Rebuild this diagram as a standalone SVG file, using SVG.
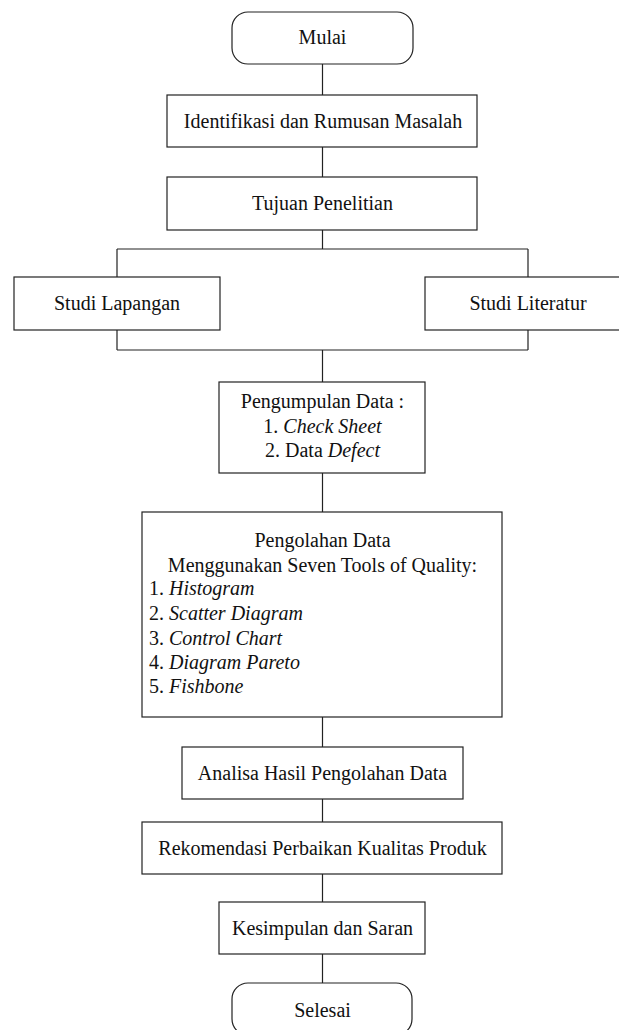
<svg xmlns="http://www.w3.org/2000/svg" width="619" height="1030" viewBox="0 0 619 1030">
<style>
.b{fill:#fff;stroke:#222;stroke-width:1.2}
.c{fill:none;stroke:#222;stroke-width:1.2}
.t{font-family:"Liberation Serif","Times New Roman",serif;font-size:20px;fill:#111}
.m{text-anchor:middle}
.i{font-style:italic}
</style>
<rect width="619" height="1030" fill="#fff"/>
<g id="connectors">
<path class="c" d="M322.5 64V95M322.5 147V177M322.5 230V249M117 249H528M117 249V277M528 249V277M117 330V350M528 330V350M117 350H528M322.5 350V382M322.5 473V512M322.5 717V747M322.5 799V822M322.5 874V902M322.5 954V983"/>
</g>
<g id="mulai"><rect class="b" x="232" y="12" width="181" height="52" rx="16"/><text class="t m" x="322.5" y="44">Mulai</text></g>
<g id="identifikasi"><rect class="b" x="167" y="95" width="310" height="52"/><text class="t m" x="323" y="128">Identifikasi dan Rumusan Masalah</text></g>
<g id="tujuan"><rect class="b" x="167" y="177" width="310" height="53"/><text class="t m" x="322.5" y="210">Tujuan Penelitian</text></g>
<g id="studi-lapangan"><rect class="b" x="14" y="277" width="206" height="53"/><text class="t m" x="117" y="310">Studi Lapangan</text></g>
<g id="studi-literatur"><rect class="b" x="425" y="277" width="206" height="53"/><text class="t m" x="528" y="310">Studi Literatur</text></g>
<g id="pengumpulan"><rect class="b" x="219" y="382" width="206" height="91"/>
<text class="t m" x="322.5" y="408">Pengumpulan Data :</text>
<text class="t m" x="322.5" y="433">1. <tspan class="i">Check Sheet</tspan></text>
<text class="t m" x="322.5" y="457">2. Data <tspan class="i">Defect</tspan></text></g>
<g id="pengolahan"><rect class="b" x="142" y="512" width="360" height="205"/>
<text class="t m" x="322.5" y="547">Pengolahan Data</text>
<text class="t m" x="322.5" y="572">Menggunakan Seven Tools of Quality:</text>
<text class="t" x="149" y="595">1. <tspan class="i">Histogram</tspan></text>
<text class="t" x="149" y="620">2. <tspan class="i">Scatter Diagram</tspan></text>
<text class="t" x="149" y="645">3. <tspan class="i">Control Chart</tspan></text>
<text class="t" x="149" y="669">4. <tspan class="i">Diagram Pareto</tspan></text>
<text class="t" x="149" y="693">5. <tspan class="i">Fishbone</tspan></text></g>
<g id="analisa"><rect class="b" x="182" y="747" width="281" height="52"/><text class="t m" x="322.5" y="780">Analisa Hasil Pengolahan Data</text></g>
<g id="rekomendasi"><rect class="b" x="142" y="822" width="360" height="52"/><text class="t m" x="322.5" y="855">Rekomendasi Perbaikan Kualitas Produk</text></g>
<g id="kesimpulan"><rect class="b" x="219" y="902" width="206" height="52"/><text class="t m" x="322.5" y="935">Kesimpulan dan Saran</text></g>
<g id="selesai"><rect class="b" x="232" y="983" width="180" height="52" rx="16"/><text class="t m" x="322.5" y="1017">Selesai</text></g>
</svg>
